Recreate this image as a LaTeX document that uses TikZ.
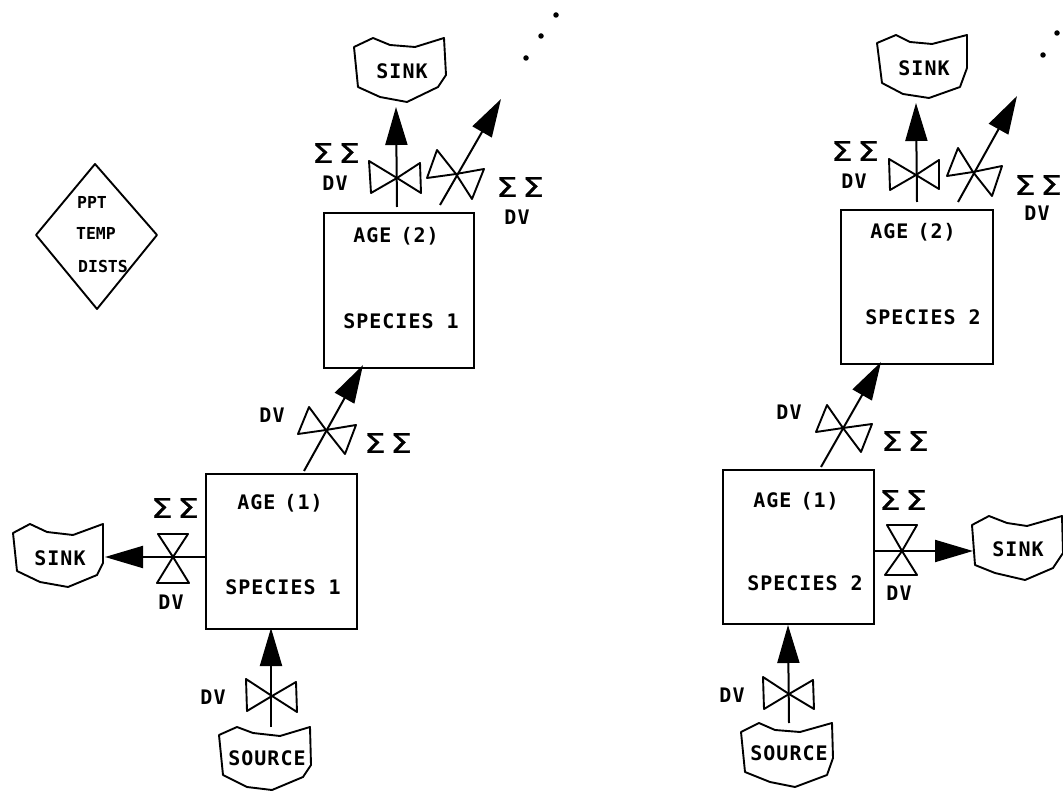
\documentclass[tikz,border=0pt]{standalone}
\usepackage{fontspec}
\usetikzlibrary{arrows.meta}
\newfontfamily\plotfont[LetterSpace=5]{DejaVu Sans Mono}
\newfontfamily\smallplot{DejaVu Sans Mono}
\newfontfamily\sigfont[FakeBold=1]{DejaVu Sans}
\tikzset{
  outline/.style={line width=1.9pt,line join=round},
  stock/.style={draw,line width=2pt,inner sep=0pt,anchor=north west},
  lab/.style={font=\plotfont\bfseries\fontsize{20}{20}\selectfont,inner sep=0pt,text=black},
  tinylab/.style={font=\smallplot\bfseries\fontsize{16.5}{16.5}\selectfont,inner sep=0pt},
  sig/.style={font=\sigfont\fontsize{27}{27}\selectfont,inner sep=0pt},
  flow/.style={line width=2pt,-{Triangle[length=38pt,width=22pt]}},
  dotmark/.style={circle,fill=black,inner sep=0pt,minimum size=5.5pt}
}
\newcommand{\sigs}{\scalebox{1.25}[1]{Σ}\hspace{5pt}\scalebox{1.25}[1]{Σ}}
\newcommand{\valve}[5]{\draw[outline] (#1) -- (#2) -- (#3) -- (#1) -- (#4) -- (#5) -- cycle;}
\begin{document}
\begin{tikzpicture}[x=1pt,y=-1pt]
\useasboundingbox[fill=white] (0,0) rectangle (1063,791);

% ---------- weather diamond
\draw[outline] (95,164) -- (157,235) -- (97,309) -- (36,235) -- cycle;
\node[tinylab] (ppt) at (92,202) {PPT};
\node[tinylab] (temp) at (96,233) {TEMP};
\node[tinylab] (dists) at (103,266) {DISTS};

% ---------- species 1
\node[stock,minimum width=151pt,minimum height=155pt] (a1) at (205,473) {};
\node[stock,minimum width=150pt,minimum height=155pt] (a2) at (323,212) {};
\node[lab] (a1t) at (280,503) {AGE\hspace{9pt}(1)};
\node[lab] (a1s) at (283,587) {SPECIES 1};
\node[lab] (a2t) at (396,236) {AGE\hspace{9pt}(2)};
\node[lab] (a2s) at (401,321) {SPECIES 1};

\draw[outline] (13,533) -- (30,524) -- (47,532) -- (73,535) -- (103,524) -- (103,563) -- (97,575) -- (68,587) -- (40,582) -- (17,571) -- cycle;
\node[lab] (s1) at (60,558) {SINK};
\draw[outline] (219,735) -- (237,727) -- (253,733) -- (280,736) -- (310,727) -- (311,765) -- (303,777) -- (272,790) -- (247,787) -- (223,775) -- cycle;
\node[lab] (so1) at (267,758) {SOURCE};
\draw[outline] (354,47) -- (373,38) -- (390,45) -- (415,47) -- (444,38) -- (446,75) -- (438,87) -- (407,102) -- (380,97) -- (358,87) -- cycle;
\node[lab] (s2) at (402,71) {SINK};

\coordinate (v1) at (173,557); \coordinate (t1) at (105,557); \coordinate (b1) at (205,557);
\coordinate (v2) at (272,696); \coordinate (t2) at (271,628); \coordinate (b2) at (271,727);
\coordinate (v3) at (326,430); \coordinate (t3) at (363,365); \coordinate (b3) at (304,471);
\coordinate (v4) at (397,178); \coordinate (t4) at (396,107); \coordinate (b4) at (397,207);
\coordinate (v5) at (456,174); \coordinate (t5) at (501,99);  \coordinate (b5) at (440,205);

\draw[flow] (b1) -- (t1);
\draw[flow] (b2) -- (t2);
\draw[flow] (b3) -- (t3);
\draw[flow] (b4) -- (t4);
\draw[flow] (b5) -- (t5);
\valve{v1}{158,534}{188,534}{189,583}{157,583}
\valve{v2}{246,679}{247,711}{297,712}{296,682}
\valve{v3}{309,407}{298,434}{345,454}{356,425}
\valve{v4}{369,161}{371,193}{421,193}{420,163}
\valve{v5}{437,150}{427,178}{472,199}{484,169}

\node[sig] (e1) at (175,508) {\sigs};
\node[lab] (d1) at (171,602) {DV};
\node[lab] (d2) at (213,697) {DV};
\node[lab] (d3) at (272,415) {DV};
\node[sig] (e3) at (388,443) {\sigs};
\node[sig] (e4) at (336,153) {\sigs};
\node[lab] (d4) at (335,183) {DV};
\node[sig] (e5) at (520,187) {\sigs};
\node[lab] (d5) at (517,217) {DV};
\node[dotmark] (p1) at (556,15) {};
\node[dotmark] (p2) at (541,36) {};
\node[dotmark] (p3) at (526,58) {};

% ---------- species 2
\node[stock,minimum width=151pt,minimum height=154pt] (c1) at (722,469) {};
\node[stock,minimum width=152pt,minimum height=154pt] (c2) at (840,209) {};
\node[lab] (c1t) at (796,501) {AGE\hspace{9pt}(1)};
\node[lab] (c1s) at (805,583) {SPECIES 2};
\node[lab] (c2t) at (913,232) {AGE\hspace{9pt}(2)};
\node[lab] (c2s) at (923,317) {SPECIES 2};

\draw[outline] (972,525) -- (989,516) -- (1007,523) -- (1027,526) -- (1062,516) -- (1063,553) -- (1053,568) -- (1025,580) -- (995,573) -- (975,565) -- cycle;
\node[lab] (r1) at (1018,549) {SINK};
\draw[outline] (741,732) -- (759,723) -- (775,730) -- (800,732) -- (832,723) -- (833,758) -- (827,775) -- (795,787) -- (770,782) -- (745,772) -- cycle;
\node[lab] (so2) at (789,753) {SOURCE};
\draw[outline] (877,43) -- (896,35) -- (910,42) -- (932,44) -- (967,35) -- (967,68) -- (960,87) -- (929,98) -- (903,94) -- (882,83) -- cycle;
\node[lab] (r2) at (924,68) {SINK};

\coordinate (w1) at (902,551); \coordinate (u1) at (973,551); \coordinate (k1) at (873,551);
\coordinate (w2) at (789,694); \coordinate (u2) at (788,625); \coordinate (k2) at (789,723);
\coordinate (w3) at (843,428); \coordinate (u3) at (881,362); \coordinate (k3) at (821,467);
\coordinate (w4) at (916,175); \coordinate (u4) at (916,103); \coordinate (k4) at (917,202);
\coordinate (w5) at (973,172); \coordinate (u5) at (1017,96); \coordinate (k5) at (958,202);

\draw[flow] (k1) -- (u1);
\draw[flow] (k2) -- (u2);
\draw[flow] (k3) -- (u3);
\draw[flow] (k4) -- (u4);
\draw[flow] (k5) -- (u5);
\valve{w1}{887,525}{917,525}{917,575}{885,575}
\valve{w2}{763,677}{764,709}{814,709}{813,680}
\valve{w3}{827,405}{816,432}{861,452}{872,424}
\valve{w4}{889,159}{890,190}{939,189}{939,160}
\valve{w5}{958,148}{947,176}{992,196}{1002,166}

\node[sig] (f1) at (903,500) {\sigs};
\node[lab] (g1) at (899,593) {DV};
\node[lab] (g2) at (732,695) {DV};
\node[lab] (g3) at (789,412) {DV};
\node[sig] (f3) at (905,441) {\sigs};
\node[sig] (f4) at (855,151) {\sigs};
\node[lab] (g4) at (854,181) {DV};
\node[sig] (f5) at (1038,185) {\sigs};
\node[lab] (g5) at (1037,213) {DV};
\node[dotmark] (q1) at (1057,33) {};
\node[dotmark] (q2) at (1043,55) {};
\end{tikzpicture}
\end{document}
